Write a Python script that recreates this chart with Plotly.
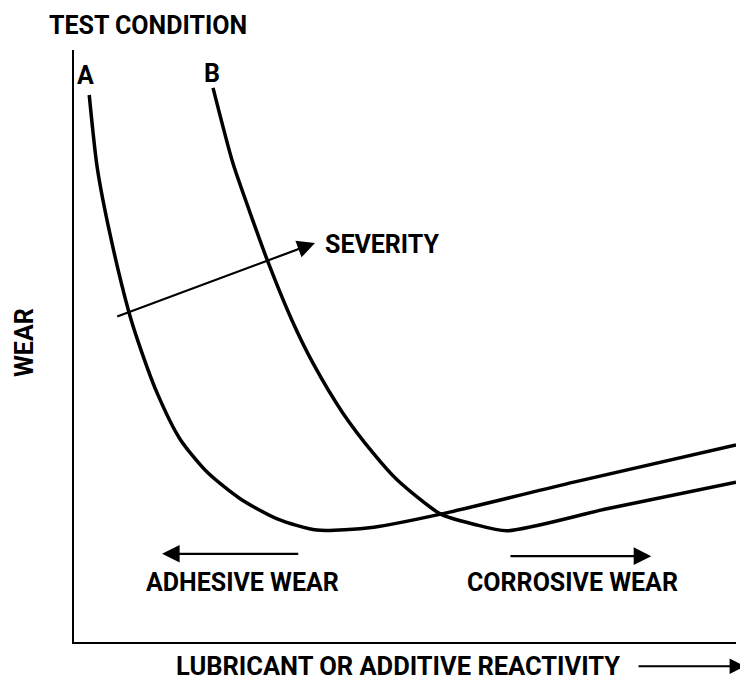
import plotly.graph_objects as go

# Curve A (reactivity, wear)
curve_a_x = [2.3, 3.5, 5.4, 8.3, 9.7, 12.5, 16.0, 20.1, 25.1, 30.7, 36.7, 45.3, 55.4, 75.5, 100.0]
curve_a_y = [92.4, 80.2, 69.1, 55.7, 50.7, 42.2, 34.3, 28.7, 24.2, 20.8, 18.9, 19.4, 21.6, 27.0, 33.3]

# Curve B
curve_b_x = [21.0, 24.0, 26.6, 29.2, 32.9, 36.1, 40.6, 45.2, 48.8, 55.4, 60.4, 65.4, 80.5, 100.0]
curve_b_y = [93.6, 80.9, 72.5, 64.5, 54.4, 47.1, 38.7, 31.9, 27.4, 21.6, 19.9, 18.8, 22.5, 27.0]

curve_labels = ["A", "B"]
label_x = [1.8, 20.9]
label_y = [95.7, 96.0]

severity_start = (6.3, 54.9)
severity_end = (36.4, 67.4)

adhesive_arrow = (34.1, 13.3, 14.9)   # tail x, tip x, y
corrosive_arrow = (65.7, 87.2, 14.5)

FONT = "Roboto, Liberation Sans Narrow, sans-serif"
fs = 25

def tf(size=fs):
    return dict(size=size, family=FONT, color="black", weight="bold")

fig = go.Figure()
for xs, ys in [(curve_a_x, curve_a_y), (curve_b_x, curve_b_y)]:
    fig.add_trace(go.Scatter(x=xs, y=ys, mode="lines",
                             line=dict(color="black", width=3.5, shape="spline", smoothing=0.7),
                             hoverinfo="skip", showlegend=False))

ann = []
for t, x, y in zip(curve_labels, label_x, label_y):
    ann.append(dict(x=x, y=y, xref="x", yref="y", text=t, showarrow=False, font=tf(),
                    xanchor="center", yanchor="middle"))

ann.append(dict(x=severity_end[0], y=severity_end[1], ax=severity_start[0], ay=severity_start[1],
                xref="x", yref="y", axref="x", ayref="y", text="", showarrow=True,
                arrowhead=2, arrowsize=1.6, arrowwidth=2.2, arrowcolor="black"))
ann.append(dict(x=37.6, y=67.1, xref="x", yref="y", text="SEVERITY", showarrow=False,
                xanchor="left", yanchor="middle", font=tf()))

ann.append(dict(x=adhesive_arrow[1], y=adhesive_arrow[2], ax=adhesive_arrow[0], ay=adhesive_arrow[2],
                xref="x", yref="y", axref="x", ayref="y", text="", showarrow=True,
                arrowhead=2, arrowsize=1.6, arrowwidth=2.2, arrowcolor="black"))
ann.append(dict(x=25.4, y=10.1, xref="x", yref="y", text="ADHESIVE WEAR", showarrow=False, font=tf(),
                xanchor="center", yanchor="middle"))

ann.append(dict(x=corrosive_arrow[1], y=corrosive_arrow[2], ax=corrosive_arrow[0], ay=corrosive_arrow[2],
                xref="x", yref="y", axref="x", ayref="y", text="", showarrow=True,
                arrowhead=2, arrowsize=1.6, arrowwidth=2.2, arrowcolor="black"))
ann.append(dict(x=75.3, y=10.1, xref="x", yref="y", text="CORROSIVE WEAR", showarrow=False, font=tf(),
                xanchor="center", yanchor="middle"))

ann.append(dict(x=11.2, y=1.042, xref="x", yref="paper", text="TEST CONDITION", showarrow=False,
                font=tf(), xanchor="center", yanchor="middle"))
ann.append(dict(x=-0.0755, y=50.5, xref="paper", yref="y", text="WEAR", showarrow=False,
                textangle=-90, font=tf(), xanchor="center", yanchor="middle"))
ann.append(dict(x=48.9, y=-0.041, xref="x", yref="paper", text="LUBRICANT OR ADDITIVE REACTIVITY",
                showarrow=False, font=tf(25.5), xanchor="center", yanchor="middle"))
ann.append(dict(x=1.0136, y=-0.041, xref="paper", yref="paper", ax=-108, ay=0,
                axref="pixel", ayref="pixel", text="", showarrow=True, arrowhead=2,
                arrowsize=1.4, arrowwidth=2.2, arrowcolor="black"))

fig.update_layout(
    width=740, height=676,
    margin=dict(l=66, r=12, t=42, b=42),
    paper_bgcolor="white", plot_bgcolor="white",
    annotations=ann,
    xaxis=dict(range=[0, 100], showgrid=False, zeroline=False, showticklabels=False, ticks="",
               showline=True, linecolor="black", linewidth=2),
    yaxis=dict(range=[0, 100], showgrid=False, zeroline=False, showticklabels=False, ticks="",
               showline=True, linecolor="black", linewidth=2),
)
fig.write_html("out.html")
